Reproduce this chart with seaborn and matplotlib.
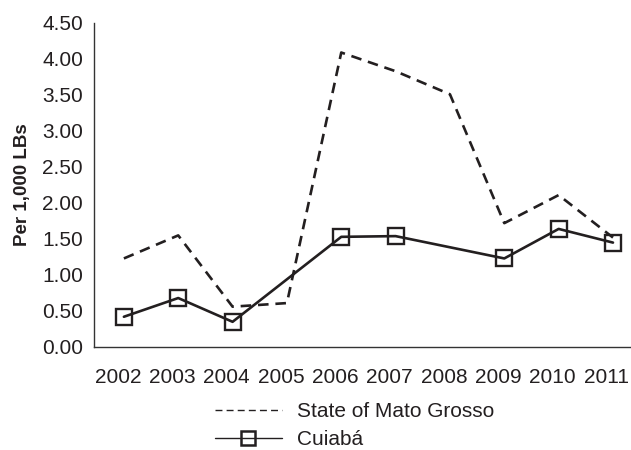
import pandas as pd
import numpy as np
import matplotlib.pyplot as plt
import matplotlib.transforms as mtransforms
from matplotlib.lines import Line2D
import seaborn as sns

# Data
years = [2002, 2003, 2004, 2005, 2006, 2007, 2008, 2009, 2010, 2011]
mato_grosso = [1.23, 1.55, 0.56, 0.61, 4.09, 3.83, 3.51, 1.72, 2.11, 1.52]
cuiaba = [0.42, 0.68, 0.35, np.nan, 1.53, 1.54, np.nan, 1.23, 1.64, 1.45]
y_ticks = [0.0, 0.5, 1.0, 1.5, 2.0, 2.5, 3.0, 3.5, 4.0, 4.5]

sns.set_theme(style="white")
plt.rcParams['font.family'] = ['Liberation Sans', 'DejaVu Sans']

df = pd.DataFrame({'year': years, 'State of Mato Grosso': mato_grosso, 'Cuiabá': cuiaba})

fig = plt.figure(figsize=(6.31, 4.5), dpi=100)
ax = fig.add_axes([94 / 631, 1 - 347 / 450, 1 - 94 / 631 - 0.001, (347 - 23) / 450])

ink = '#231f20'

sns.lineplot(data=df, x='year', y='State of Mato Grosso', ax=ax,
             color=ink, linewidth=1.9, legend=False)
ax.lines[-1].set_dashes((4, 2.6))

cu = df.dropna(subset=['Cuiabá'])
sns.lineplot(data=cu, x='year', y='Cuiabá', ax=ax, color=ink, linewidth=1.9,
             marker='s', markersize=11, markerfacecolor='none',
             markeredgecolor=ink, markeredgewidth=1.7, legend=False)

ax.set_xlim(2001.45, 2011.32)
ax.set_ylim(0, 4.5)
ax.set_xticks(years)
ax.set_xticklabels([str(y) for y in years])
ax.set_yticks(y_ticks)
ax.set_yticklabels([f'{v:.2f}' for v in y_ticks])
ax.tick_params(axis='both', length=0, labelsize=15, colors=ink)
ax.tick_params(axis='y', pad=8)
ax.tick_params(axis='x', pad=15)
# x labels sit a little left of the points in the original
shift = mtransforms.ScaledTranslation(-6 / 100, 0, fig.dpi_scale_trans)
for lab in ax.get_xticklabels():
    lab.set_transform(lab.get_transform() + shift)
ax.set_xlabel('')
ax.set_ylabel('Per 1,000 LBs', fontsize=13.5, fontweight='bold', color=ink, labelpad=8)

for s in ['top', 'right']:
    ax.spines[s].set_visible(False)
for s in ['left', 'bottom']:
    ax.spines[s].set_color('#333333')
    ax.spines[s].set_linewidth(1.0)

handles = [
    Line2D([], [], color=ink, linewidth=1.0, dashes=(5, 3)),
    Line2D([], [], color=ink, linewidth=1.0, marker='s', markersize=10,
           markerfacecolor='none', markeredgecolor=ink, markeredgewidth=1.8),
]
fig.legend(handles, ['State of Mato Grosso', 'Cuiabá'], loc='upper left',
           bbox_to_anchor=(215 / 631, 1 - 402 / 450),
           frameon=False, fontsize=15, handlelength=3.2, handletextpad=0.75,
           labelspacing=0.45, borderpad=0, borderaxespad=0, labelcolor=ink)

plt.savefig('out.png', dpi=100)
